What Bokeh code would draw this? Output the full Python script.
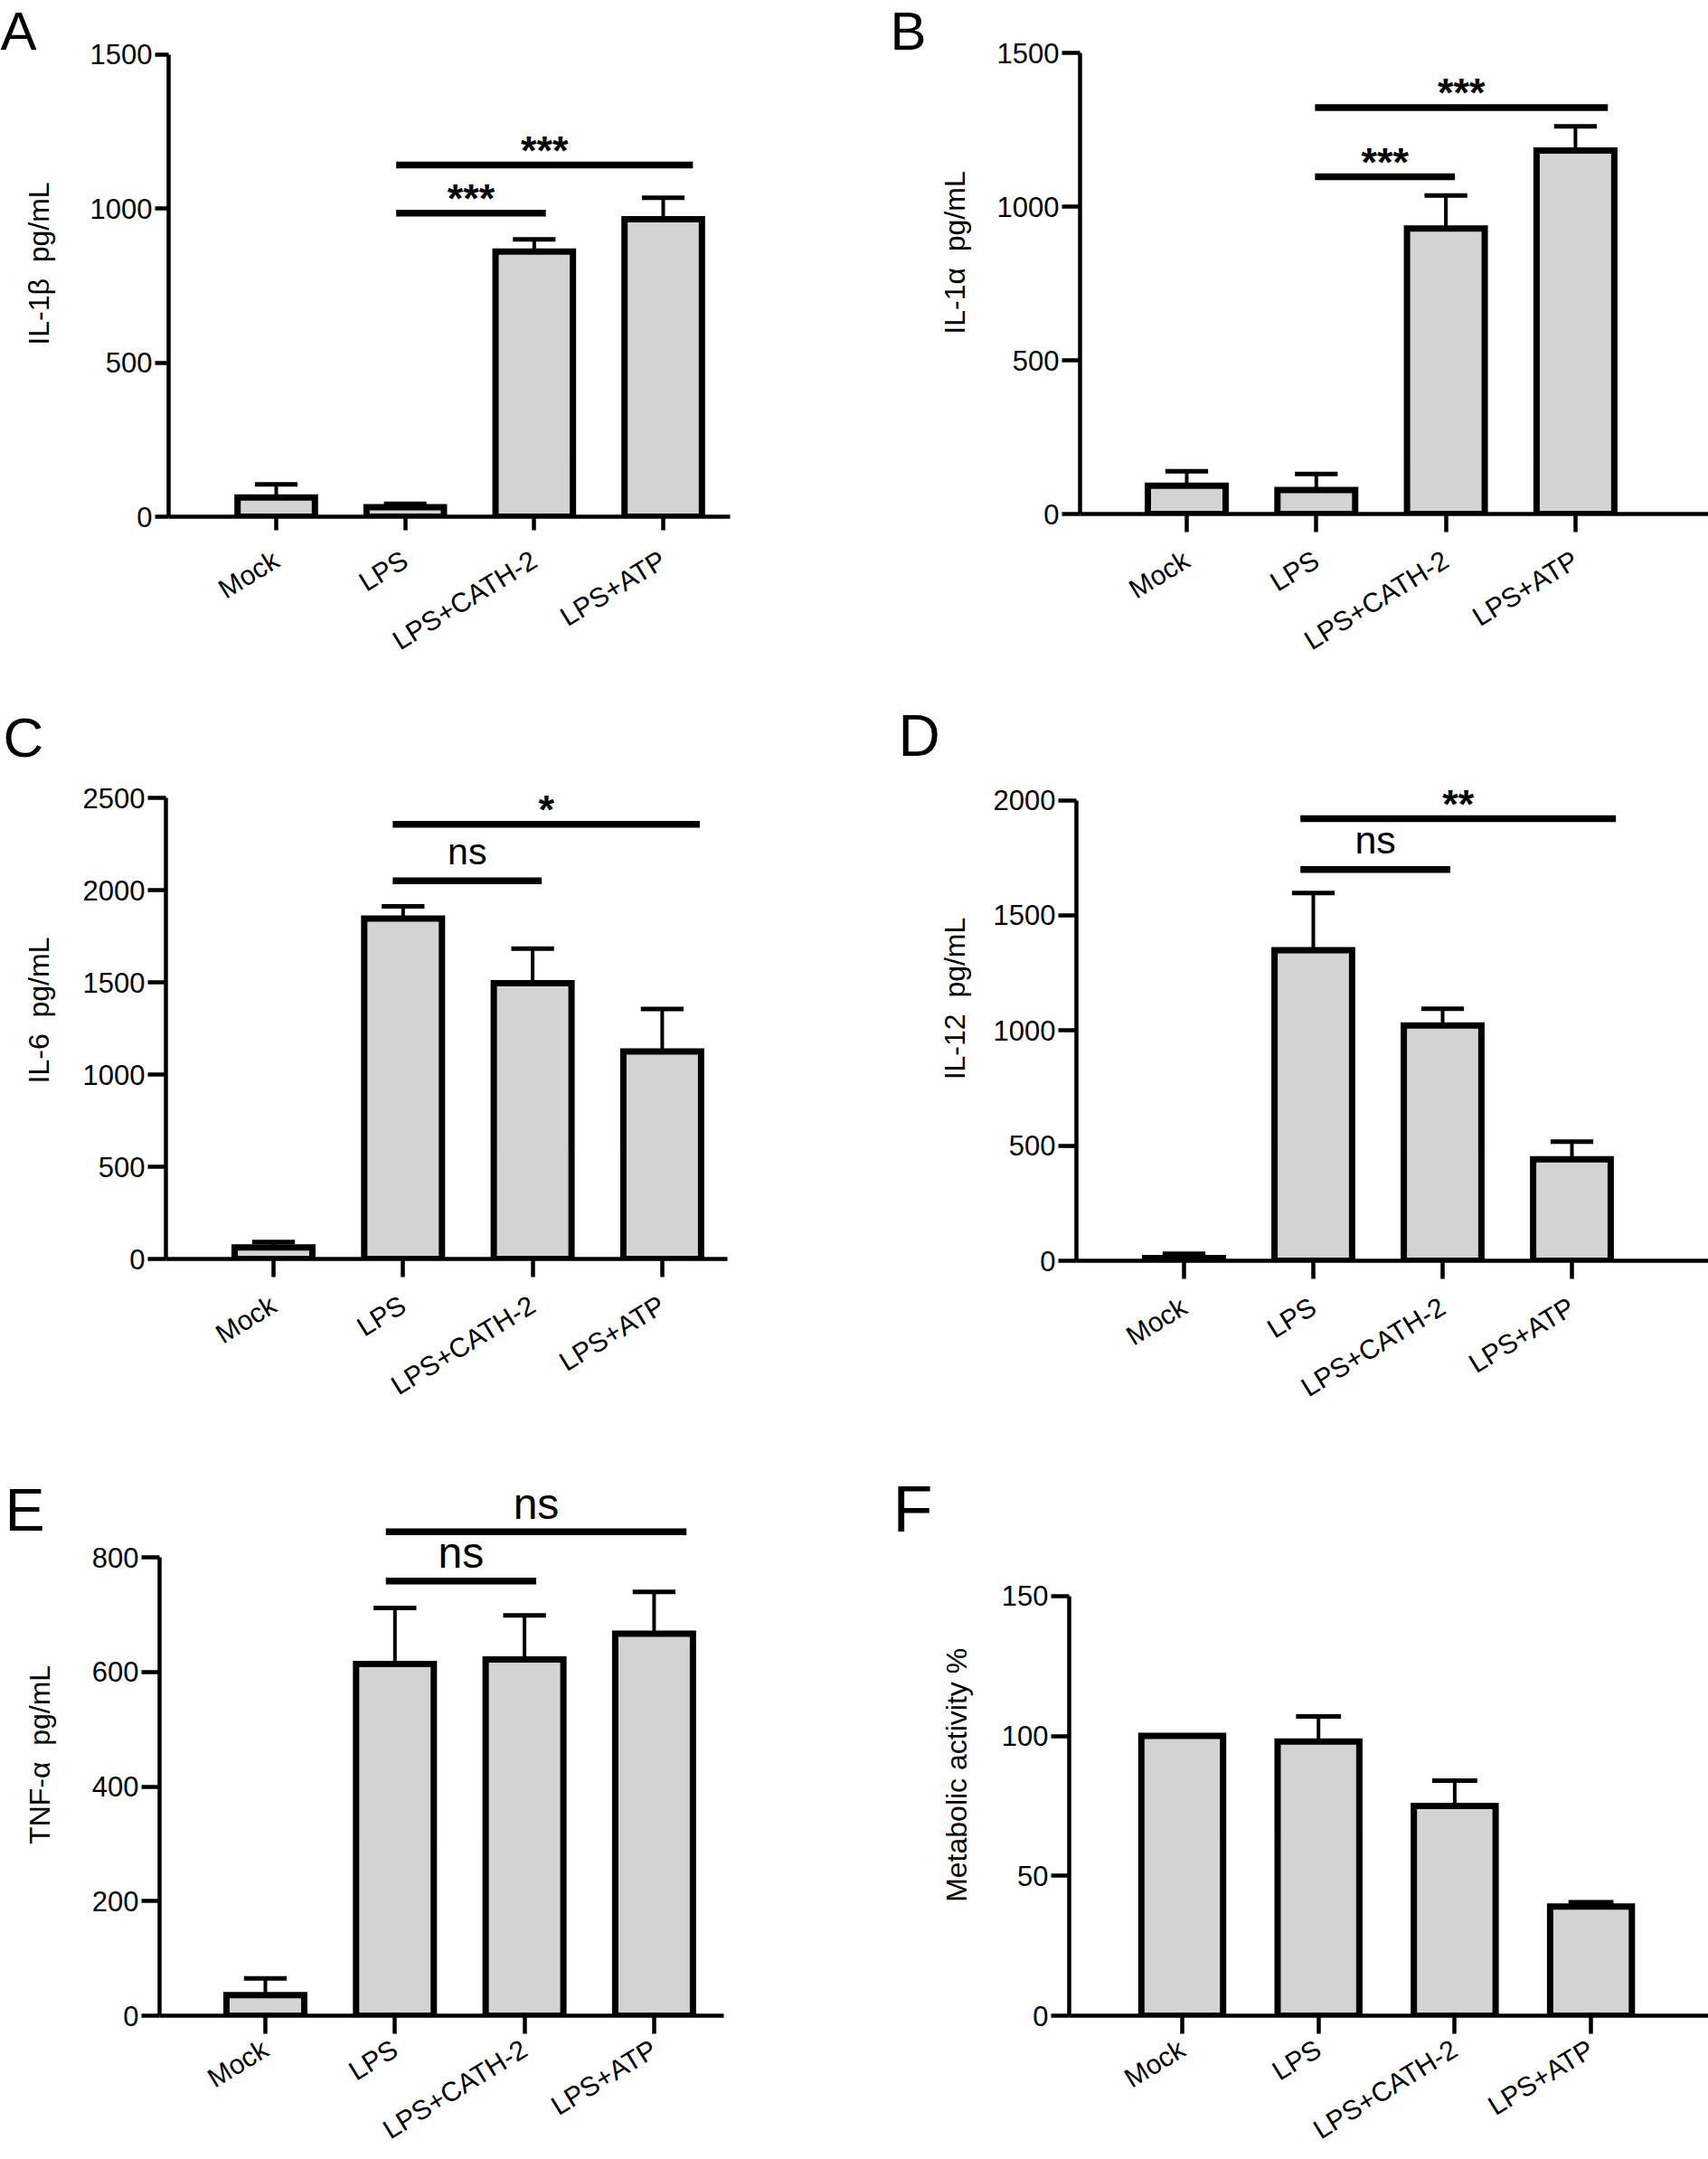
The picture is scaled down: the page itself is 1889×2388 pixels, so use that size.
import math
from bokeh.plotting import figure
from bokeh.layouts import row, column
from bokeh.models import FixedTicker, Range1d
from bokeh.core.properties import value
from bokeh.embed import file_html
from bokeh.resources import INLINE

# ---------------- data ----------------
categories = ["Mock", "LPS", "LPS+CATH-2", "LPS+ATP"]

il1b_mean = [62, 31, 860, 965]
il1b_err = [43, 11, 40, 70]
il1b_br_from = [0.93, 0.93]
il1b_br_to = [2.09, 3.23]
il1b_br_y = [985, 1141]
il1b_br_text = ["***", "***"]

il1a_mean = [92, 78, 929, 1183]
il1a_err = [47, 52, 108, 79]
il1a_br_from = [0.99, 0.99]
il1a_br_to = [2.07, 3.25]
il1a_br_y = [1098, 1323]
il1a_br_text = ["***", "***"]

il6_mean = [62, 1845, 1495, 1125]
il6_err = [30, 67, 187, 230]
il6_br_from = [0.92, 0.92]
il6_br_to = [2.07, 3.29]
il6_br_y = [2050, 2357]
il6_br_text = ["ns", "*"]

il12_mean = [12, 1349, 1022, 441]
il12_err = [18, 248, 72, 76]
il12_br_from = [0.90, 0.90]
il12_br_to = [2.06, 3.34]
il12_br_y = [1699, 1920]
il12_br_text = ["ns", "**"]

tnf_mean = [36, 614, 622, 667]
tnf_err = [29, 98, 77, 73]
tnf_br_from = [0.93, 0.93]
tnf_br_to = [2.09, 3.25]
tnf_br_y = [759, 845]
tnf_br_text = ["ns", "ns"]

meta_mean = [100, 98, 75, 39]
meta_err = [0, 9, 9, 1.6]

ticks_A = [0, 500, 1000, 1500]
ticks_B = [0, 500, 1000, 1500]
ticks_C = [0, 500, 1000, 1500, 2000, 2500]
ticks_D = [0, 500, 1000, 1500, 2000]
ticks_E = [0, 200, 400, 600, 800]
ticks_F = [0, 50, 100, 150]

labels = {
    "A": "IL-1\u03b2\u00a0\u00a0pg/mL",
    "B": "IL-1\u03b1\u00a0\u00a0pg/mL",
    "C": "IL-6\u00a0\u00a0pg/mL",
    "D": "IL-12\u00a0\u00a0pg/mL",
    "E": "TNF-\u03b1\u00a0\u00a0pg/mL",
    "F": "Metabolic activity %",
}

FONT = "Liberation Sans"
BAR_FILL = "#d3d3d3"


def strip(ox, oy, W, H, frame_bottom, letter, letter_pos, letter_size, ylabel, ylabel_pos):
    # the strip's frame is aligned with its neighbour's frame (top = oy, bottom = frame_bottom)
    s = figure(width=W, height=H, x_range=Range1d(0, W), y_range=Range1d(frame_bottom - oy, 0),
               output_backend="svg", toolbar_location=None,
               x_axis_location=None, y_axis_location=None, min_border=0,
               min_border_bottom=oy + H - frame_bottom)
    s.outline_line_color = None
    s.xgrid.visible = False
    s.ygrid.visible = False
    s.text(x=[letter_pos[0] - ox], y=[letter_pos[1] - oy], text=[letter],
           text_align="left", text_baseline="middle", text_font=value(FONT),
           text_font_size=letter_size, text_color="black")
    s.text(x=[ylabel_pos[0] - ox], y=[ylabel_pos[1] - oy], text=[ylabel], angle=math.pi / 2,
           text_align="center", text_baseline="middle", text_font=value(FONT),
           text_font_size="32px", text_color="black")
    return s


def build(geo, means, errs, yticks, br_from=None, br_to=None, br_y=None, br_text=None,
          ns_size="42px", ns_off=-32, tick_len=20, label_standoff=28):
    ox, oy, W, H, L, R, B, c0, ppu, yv, ypx = geo
    T = oy
    x0 = (L - c0) / ppu
    x1 = (R - c0) / ppu
    yend = yv * (B - T) / (B - ypx)
    p = figure(width=W, height=H, x_range=Range1d(x0, x1), y_range=Range1d(0, yend),
               output_backend="svg", toolbar_location=None,
               min_border_left=L - ox, min_border_right=ox + W - R,
               min_border_top=0, min_border_bottom=oy + H - B)
    p.outline_line_color = None
    p.xgrid.visible = False
    p.ygrid.visible = False

    xs = list(range(len(categories)))
    p.vbar(x=xs, top=means, bottom=0, width=0.6, fill_color=BAR_FILL,
           line_color="black", line_width=7, line_join="miter")
    tops = [m + e for m, e in zip(means, errs)]
    p.segment(x0=xs, y0=means, x1=xs, y1=tops, line_color="black", line_width=4)
    p.segment(x0=[x - 0.165 for x in xs], y0=tops, x1=[x + 0.165 for x in xs], y1=tops,
              line_color="black", line_width=5, line_cap="butt")

    if br_from is not None:
        p.segment(x0=br_from, y0=br_y, x1=br_to, y1=br_y, line_color="black",
                  line_width=7.5, line_cap="butt")
        for a, b, y, t in zip(br_from, br_to, br_y, br_text):
            star = "*" in t
            p.text(x=[(a + b) / 2], y=[y], text=[t], text_align="center",
                   text_baseline="middle",
                   y_offset=-16 if star else ns_off,
                   text_font=value(FONT),
                   text_font_size="45px" if star else ns_size,
                   text_font_style="bold" if star else "normal",
                   text_color="black")

    p.xaxis.ticker = FixedTicker(ticks=xs)
    p.xaxis.major_label_overrides = {i: c for i, c in enumerate(categories)}
    p.xaxis.major_label_orientation = 0.55
    p.xaxis.major_label_standoff = label_standoff
    p.xaxis.major_label_text_font_size = "30px"
    p.yaxis.ticker = FixedTicker(ticks=yticks)
    p.yaxis.bounds = (0, yticks[-1])
    p.yaxis.major_label_standoff = 3
    p.yaxis.major_label_text_font_size = "31px"
    for ax in (p.xaxis[0], p.yaxis[0]):
        ax.axis_line_color = "black"
        ax.axis_line_width = 4.5
        ax.major_tick_line_color = "black"
        ax.major_tick_line_width = 4.5
        ax.major_tick_out = tick_len
        ax.major_tick_in = 0
        ax.minor_tick_line_color = None
        ax.major_label_text_font = FONT
        ax.major_label_text_color = "black"
    return p


# panel geometry (page pixels): fig x, y, width, height, frame L, R, B,
# first category px, px per category, reference tick value and its pixel row
geoA = (67, 0, 873, 770, 186, 807, 571, 305, 142.67, 1500, 59.7)
geoB = (1080, 0, 809, 770, 1194, 1889, 568, 1312, 143.3, 1500, 58.3)
geoC = (67, 770, 873, 830, 183, 804, 1392, 302, 143.3, 2500, 882)
geoD = (1080, 770, 809, 830, 1190, 1889, 1394, 1309, 143.0, 2000, 884.6)
geoE = (67, 1600, 873, 788, 176, 800, 2232, 293, 143.3, 800, 1722.8)
geoF = (1080, 1600, 809, 788, 1182, 1889, 2231, 1307, 150.7, 150, 1765.4)

sA = strip(0, 0, 67, 770, 571, "A", (0, 34), "60px", labels["A"], (42.5, 291))
sB = strip(940, 0, 140, 770, 568, "B", (984, 34), "60px", labels["B"], (1055, 279))
sC = strip(0, 770, 67, 830, 1392, "C", (3, 815), "62px", labels["C"], (42.5, 1117))
sD = strip(940, 770, 140, 830, 1394, "D", (993, 813), "64px", labels["D"], (1055, 1104))
sE = strip(0, 1600, 67, 788, 2232, "E", (5, 1670), "66px", labels["E"], (43.5, 1942))
sF = strip(940, 1600, 140, 788, 2231, "F", (987, 1669), "72px", labels["F"], (1057.5, 1964))

pA = build(geoA, il1b_mean, il1b_err, ticks_A, il1b_br_from, il1b_br_to, il1b_br_y, il1b_br_text,
           tick_len=15, label_standoff=30)
pB = build(geoB, il1a_mean, il1a_err, ticks_B, il1a_br_from, il1a_br_to, il1a_br_y, il1a_br_text)
pC = build(geoC, il6_mean, il6_err, ticks_C, il6_br_from, il6_br_to, il6_br_y, il6_br_text,
           ns_size="41px", ns_off=-32)
pD = build(geoD, il12_mean, il12_err, ticks_D, il12_br_from, il12_br_to, il12_br_y, il12_br_text,
           ns_size="43px", ns_off=-33)
pE = build(geoE, tnf_mean, tnf_err, ticks_E, tnf_br_from, tnf_br_to, tnf_br_y, tnf_br_text,
           ns_size="48px", ns_off=-31, label_standoff=14)
pF = build(geoF, meta_mean, meta_err, ticks_F, label_standoff=14)

left_col = column(row(sA, pA), row(sC, pC), row(sE, pE))
right_col = column(row(sB, pB), row(sD, pD), row(sF, pF))
p = row(left_col, right_col)
open("out.html", "w").write(file_html(p, INLINE))
